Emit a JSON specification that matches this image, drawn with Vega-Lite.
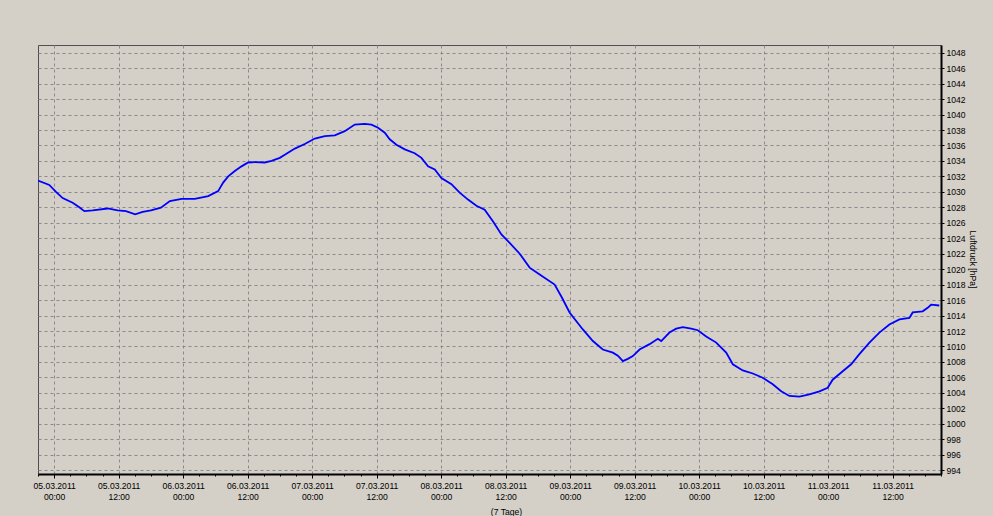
{
  "$schema": "https://vega.github.io/schema/vega-lite/v6.json",
  "width": 903,
  "height": 429,
  "autosize": {"type": "none"},
  "padding": {"left": 38, "top": 45, "right": 52, "bottom": 42},
  "background": "#d4d0c8",
  "config": {
    "view": {"stroke": "#505050", "strokeWidth": 1},
    "font": "Liberation Sans",
    "axis": {"labelFont": "Liberation Sans", "titleFont": "Liberation Sans", "labelColor": "#000000", "titleColor": "#000000"}
  },
  "data": {"values": [
    {"t": "2011-03-04T21:00", "p": 1031.45},
    {"t": "2011-03-04T23:06", "p": 1030.9},
    {"t": "2011-03-05T00:21", "p": 1030.0},
    {"t": "2011-03-05T01:35", "p": 1029.2},
    {"t": "2011-03-05T03:27", "p": 1028.6},
    {"t": "2011-03-05T04:41", "p": 1028.0},
    {"t": "2011-03-05T05:37", "p": 1027.5},
    {"t": "2011-03-05T07:10", "p": 1027.6},
    {"t": "2011-03-05T09:58", "p": 1027.85},
    {"t": "2011-03-05T11:49", "p": 1027.6},
    {"t": "2011-03-05T13:22", "p": 1027.5},
    {"t": "2011-03-05T15:05", "p": 1027.1},
    {"t": "2011-03-05T16:28", "p": 1027.4},
    {"t": "2011-03-05T18:01", "p": 1027.6},
    {"t": "2011-03-05T19:52", "p": 1027.95},
    {"t": "2011-03-05T21:32", "p": 1028.8},
    {"t": "2011-03-05T23:43", "p": 1029.1},
    {"t": "2011-03-06T02:11", "p": 1029.1},
    {"t": "2011-03-06T04:40", "p": 1029.45},
    {"t": "2011-03-06T06:31", "p": 1030.1},
    {"t": "2011-03-06T07:27", "p": 1031.2},
    {"t": "2011-03-06T08:23", "p": 1032.0},
    {"t": "2011-03-06T09:37", "p": 1032.7},
    {"t": "2011-03-06T10:52", "p": 1033.3},
    {"t": "2011-03-06T12:06", "p": 1033.8},
    {"t": "2011-03-06T13:21", "p": 1033.85},
    {"t": "2011-03-06T15:12", "p": 1033.8},
    {"t": "2011-03-06T16:27", "p": 1034.0},
    {"t": "2011-03-06T17:59", "p": 1034.4},
    {"t": "2011-03-06T18:55", "p": 1034.8},
    {"t": "2011-03-06T20:47", "p": 1035.6},
    {"t": "2011-03-06T22:38", "p": 1036.2},
    {"t": "2011-03-07T00:30", "p": 1036.9},
    {"t": "2011-03-07T02:22", "p": 1037.2},
    {"t": "2011-03-07T04:13", "p": 1037.3},
    {"t": "2011-03-07T06:04", "p": 1037.85},
    {"t": "2011-03-07T07:56", "p": 1038.7},
    {"t": "2011-03-07T09:47", "p": 1038.8},
    {"t": "2011-03-07T11:02", "p": 1038.7},
    {"t": "2011-03-07T12:16", "p": 1038.3},
    {"t": "2011-03-07T13:31", "p": 1037.65},
    {"t": "2011-03-07T14:26", "p": 1036.8},
    {"t": "2011-03-07T15:41", "p": 1036.1},
    {"t": "2011-03-07T17:14", "p": 1035.5},
    {"t": "2011-03-07T19:05", "p": 1035.0},
    {"t": "2011-03-07T20:20", "p": 1034.4},
    {"t": "2011-03-07T21:34", "p": 1033.3},
    {"t": "2011-03-07T22:49", "p": 1032.9},
    {"t": "2011-03-08T00:03", "p": 1031.8},
    {"t": "2011-03-08T01:55", "p": 1031.0},
    {"t": "2011-03-08T03:27", "p": 1029.9},
    {"t": "2011-03-08T05:00", "p": 1029.0},
    {"t": "2011-03-08T06:34", "p": 1028.2},
    {"t": "2011-03-08T08:06", "p": 1027.7},
    {"t": "2011-03-08T09:38", "p": 1026.2},
    {"t": "2011-03-08T11:13", "p": 1024.5},
    {"t": "2011-03-08T12:45", "p": 1023.4},
    {"t": "2011-03-08T14:37", "p": 1022.0},
    {"t": "2011-03-08T16:28", "p": 1020.2},
    {"t": "2011-03-08T18:20", "p": 1019.3},
    {"t": "2011-03-08T21:07", "p": 1018.0},
    {"t": "2011-03-08T22:25", "p": 1016.4},
    {"t": "2011-03-08T23:54", "p": 1014.4},
    {"t": "2011-03-09T02:22", "p": 1012.2},
    {"t": "2011-03-09T04:14", "p": 1010.7},
    {"t": "2011-03-09T06:05", "p": 1009.6},
    {"t": "2011-03-09T07:57", "p": 1009.2},
    {"t": "2011-03-09T08:53", "p": 1008.8},
    {"t": "2011-03-09T09:49", "p": 1008.1},
    {"t": "2011-03-09T10:44", "p": 1008.4},
    {"t": "2011-03-09T11:40", "p": 1008.75},
    {"t": "2011-03-09T12:55", "p": 1009.6},
    {"t": "2011-03-09T14:47", "p": 1010.3},
    {"t": "2011-03-09T16:19", "p": 1011.0},
    {"t": "2011-03-09T16:57", "p": 1010.7},
    {"t": "2011-03-09T18:29", "p": 1011.8},
    {"t": "2011-03-09T19:44", "p": 1012.3},
    {"t": "2011-03-09T20:58", "p": 1012.5},
    {"t": "2011-03-09T22:32", "p": 1012.3},
    {"t": "2011-03-09T23:45", "p": 1012.1},
    {"t": "2011-03-10T01:19", "p": 1011.3},
    {"t": "2011-03-10T03:11", "p": 1010.5},
    {"t": "2011-03-10T05:02", "p": 1009.2},
    {"t": "2011-03-10T06:16", "p": 1007.7},
    {"t": "2011-03-10T08:07", "p": 1006.9},
    {"t": "2011-03-10T09:59", "p": 1006.5},
    {"t": "2011-03-10T11:50", "p": 1005.95},
    {"t": "2011-03-10T13:42", "p": 1005.1},
    {"t": "2011-03-10T15:16", "p": 1004.2},
    {"t": "2011-03-10T16:48", "p": 1003.6},
    {"t": "2011-03-10T18:40", "p": 1003.5},
    {"t": "2011-03-10T20:31", "p": 1003.8},
    {"t": "2011-03-10T22:23", "p": 1004.2},
    {"t": "2011-03-10T23:55", "p": 1004.65},
    {"t": "2011-03-11T00:51", "p": 1005.7},
    {"t": "2011-03-11T02:43", "p": 1006.8},
    {"t": "2011-03-11T04:17", "p": 1007.7},
    {"t": "2011-03-11T05:49", "p": 1009.0},
    {"t": "2011-03-11T07:41", "p": 1010.5},
    {"t": "2011-03-11T09:32", "p": 1011.8},
    {"t": "2011-03-11T11:24", "p": 1012.85},
    {"t": "2011-03-11T13:16", "p": 1013.5},
    {"t": "2011-03-11T15:07", "p": 1013.7},
    {"t": "2011-03-11T15:44", "p": 1014.4},
    {"t": "2011-03-11T17:35", "p": 1014.55},
    {"t": "2011-03-11T18:31", "p": 1015.0},
    {"t": "2011-03-11T19:09", "p": 1015.4},
    {"t": "2011-03-11T20:41", "p": 1015.3}
  ]},
  "resolve": {"axis": {"x": "independent", "y": "independent"}},
  "layer": [
    {
      "mark": {"type": "point", "opacity": 0},
      "encoding": {
        "x": {
          "field": "t", "type": "temporal",
          "scale": {"domain": [{"year": 2011, "month": 3, "date": 4, "hours": 21}, {"year": 2011, "month": 3, "date": 11, "hours": 21}]},
          "axis": {
            "orient": "bottom",
            "values": [
              {"year": 2011, "month": 3, "date": 4, "hours": 21},
              {"year": 2011, "month": 3, "date": 5, "hours": 0}, {"year": 2011, "month": 3, "date": 5, "hours": 3}, {"year": 2011, "month": 3, "date": 5, "hours": 6}, {"year": 2011, "month": 3, "date": 5, "hours": 9},
              {"year": 2011, "month": 3, "date": 5, "hours": 12}, {"year": 2011, "month": 3, "date": 5, "hours": 15}, {"year": 2011, "month": 3, "date": 5, "hours": 18}, {"year": 2011, "month": 3, "date": 5, "hours": 21},
              {"year": 2011, "month": 3, "date": 6, "hours": 0}, {"year": 2011, "month": 3, "date": 6, "hours": 3}, {"year": 2011, "month": 3, "date": 6, "hours": 6}, {"year": 2011, "month": 3, "date": 6, "hours": 9},
              {"year": 2011, "month": 3, "date": 6, "hours": 12}, {"year": 2011, "month": 3, "date": 6, "hours": 15}, {"year": 2011, "month": 3, "date": 6, "hours": 18}, {"year": 2011, "month": 3, "date": 6, "hours": 21},
              {"year": 2011, "month": 3, "date": 7, "hours": 0}, {"year": 2011, "month": 3, "date": 7, "hours": 3}, {"year": 2011, "month": 3, "date": 7, "hours": 6}, {"year": 2011, "month": 3, "date": 7, "hours": 9},
              {"year": 2011, "month": 3, "date": 7, "hours": 12}, {"year": 2011, "month": 3, "date": 7, "hours": 15}, {"year": 2011, "month": 3, "date": 7, "hours": 18}, {"year": 2011, "month": 3, "date": 7, "hours": 21},
              {"year": 2011, "month": 3, "date": 8, "hours": 0}, {"year": 2011, "month": 3, "date": 8, "hours": 3}, {"year": 2011, "month": 3, "date": 8, "hours": 6}, {"year": 2011, "month": 3, "date": 8, "hours": 9},
              {"year": 2011, "month": 3, "date": 8, "hours": 12}, {"year": 2011, "month": 3, "date": 8, "hours": 15}, {"year": 2011, "month": 3, "date": 8, "hours": 18}, {"year": 2011, "month": 3, "date": 8, "hours": 21},
              {"year": 2011, "month": 3, "date": 9, "hours": 0}, {"year": 2011, "month": 3, "date": 9, "hours": 3}, {"year": 2011, "month": 3, "date": 9, "hours": 6}, {"year": 2011, "month": 3, "date": 9, "hours": 9},
              {"year": 2011, "month": 3, "date": 9, "hours": 12}, {"year": 2011, "month": 3, "date": 9, "hours": 15}, {"year": 2011, "month": 3, "date": 9, "hours": 18}, {"year": 2011, "month": 3, "date": 9, "hours": 21},
              {"year": 2011, "month": 3, "date": 10, "hours": 0}, {"year": 2011, "month": 3, "date": 10, "hours": 3}, {"year": 2011, "month": 3, "date": 10, "hours": 6}, {"year": 2011, "month": 3, "date": 10, "hours": 9},
              {"year": 2011, "month": 3, "date": 10, "hours": 12}, {"year": 2011, "month": 3, "date": 10, "hours": 15}, {"year": 2011, "month": 3, "date": 10, "hours": 18}, {"year": 2011, "month": 3, "date": 10, "hours": 21},
              {"year": 2011, "month": 3, "date": 11, "hours": 0}, {"year": 2011, "month": 3, "date": 11, "hours": 3}, {"year": 2011, "month": 3, "date": 11, "hours": 6}, {"year": 2011, "month": 3, "date": 11, "hours": 9},
              {"year": 2011, "month": 3, "date": 11, "hours": 12}, {"year": 2011, "month": 3, "date": 11, "hours": 15}, {"year": 2011, "month": 3, "date": 11, "hours": 18}, {"year": 2011, "month": 3, "date": 11, "hours": 21}
            ],
            "labels": false,
            "grid": false,
            "domain": false,
            "tickSize": 2,
            "tickColor": "#000000",
            "title": null
          }
        },
        "y": {"field": "p", "type": "quantitative", "axis": null}
      }
    },
    {
      "mark": {"type": "line", "color": "#0000ff", "strokeWidth": 1.8, "clip": true},
      "encoding": {
        "x": {
          "field": "t", "type": "temporal",
          "axis": {
            "orient": "bottom",
            "values": [
              {"year": 2011, "month": 3, "date": 5, "hours": 0},
              {"year": 2011, "month": 3, "date": 5, "hours": 12},
              {"year": 2011, "month": 3, "date": 6, "hours": 0},
              {"year": 2011, "month": 3, "date": 6, "hours": 12},
              {"year": 2011, "month": 3, "date": 7, "hours": 0},
              {"year": 2011, "month": 3, "date": 7, "hours": 12},
              {"year": 2011, "month": 3, "date": 8, "hours": 0},
              {"year": 2011, "month": 3, "date": 8, "hours": 12},
              {"year": 2011, "month": 3, "date": 9, "hours": 0},
              {"year": 2011, "month": 3, "date": 9, "hours": 12},
              {"year": 2011, "month": 3, "date": 10, "hours": 0},
              {"year": 2011, "month": 3, "date": 10, "hours": 12},
              {"year": 2011, "month": 3, "date": 11, "hours": 0},
              {"year": 2011, "month": 3, "date": 11, "hours": 12}
            ],
            "labelExpr": "[timeFormat(datum.value, '%d.%m.%Y'), timeFormat(datum.value, '%H:%M')]",
            "labelFontSize": 8.6,
            "labelLineHeight": 11.5,
            "labelPadding": 3,
            "labelAngle": 0,
            "labelAlign": "center",
            "labelBaseline": "top",
            "labelOverlap": false,
            "labelFlush": false,
            "tickSize": 4,
            "tickColor": "#000000",
            "domainColor": "#000000",
            "domainWidth": 2,
            "grid": true,
            "gridColor": "#8a8a8a",
            "gridDash": [3, 3],
            "gridWidth": 1,
            "title": "(7 Tage)",
            "titleFontSize": 8.6,
            "titleFontWeight": "normal",
            "titleX": 468,
            "titleY": 37.5,
            "titleBaseline": "middle",
            "titleAlign": "center"
          }
        },
        "y": {
          "field": "p", "type": "quantitative",
          "scale": {"domain": [993.5, 1049], "nice": false, "zero": false},
          "axis": {
            "orient": "right",
            "values": [994, 996, 998, 1000, 1002, 1004, 1006, 1008, 1010, 1012, 1014, 1016, 1018, 1020, 1022, 1024, 1026, 1028, 1030, 1032, 1034, 1036, 1038, 1040, 1042, 1044, 1046, 1048],
            "format": "d",
            "labelFontSize": 8.6,
            "labelPadding": 2,
            "tickSize": 3,
            "tickColor": "#000000",
            "domainColor": "#000000",
            "domainWidth": 2,
            "grid": true,
            "gridColor": "#8a8a8a",
            "gridDash": [3, 3],
            "gridWidth": 1,
            "title": "Luftdruck [hPa]",
            "titleFontSize": 8.6,
            "titleFontWeight": "normal",
            "titleAngle": 90,
            "titleX": 31,
            "titleY": 214,
            "titleAlign": "center",
            "titleBaseline": "middle"
          }
        }
      }
    }
  ]
}
